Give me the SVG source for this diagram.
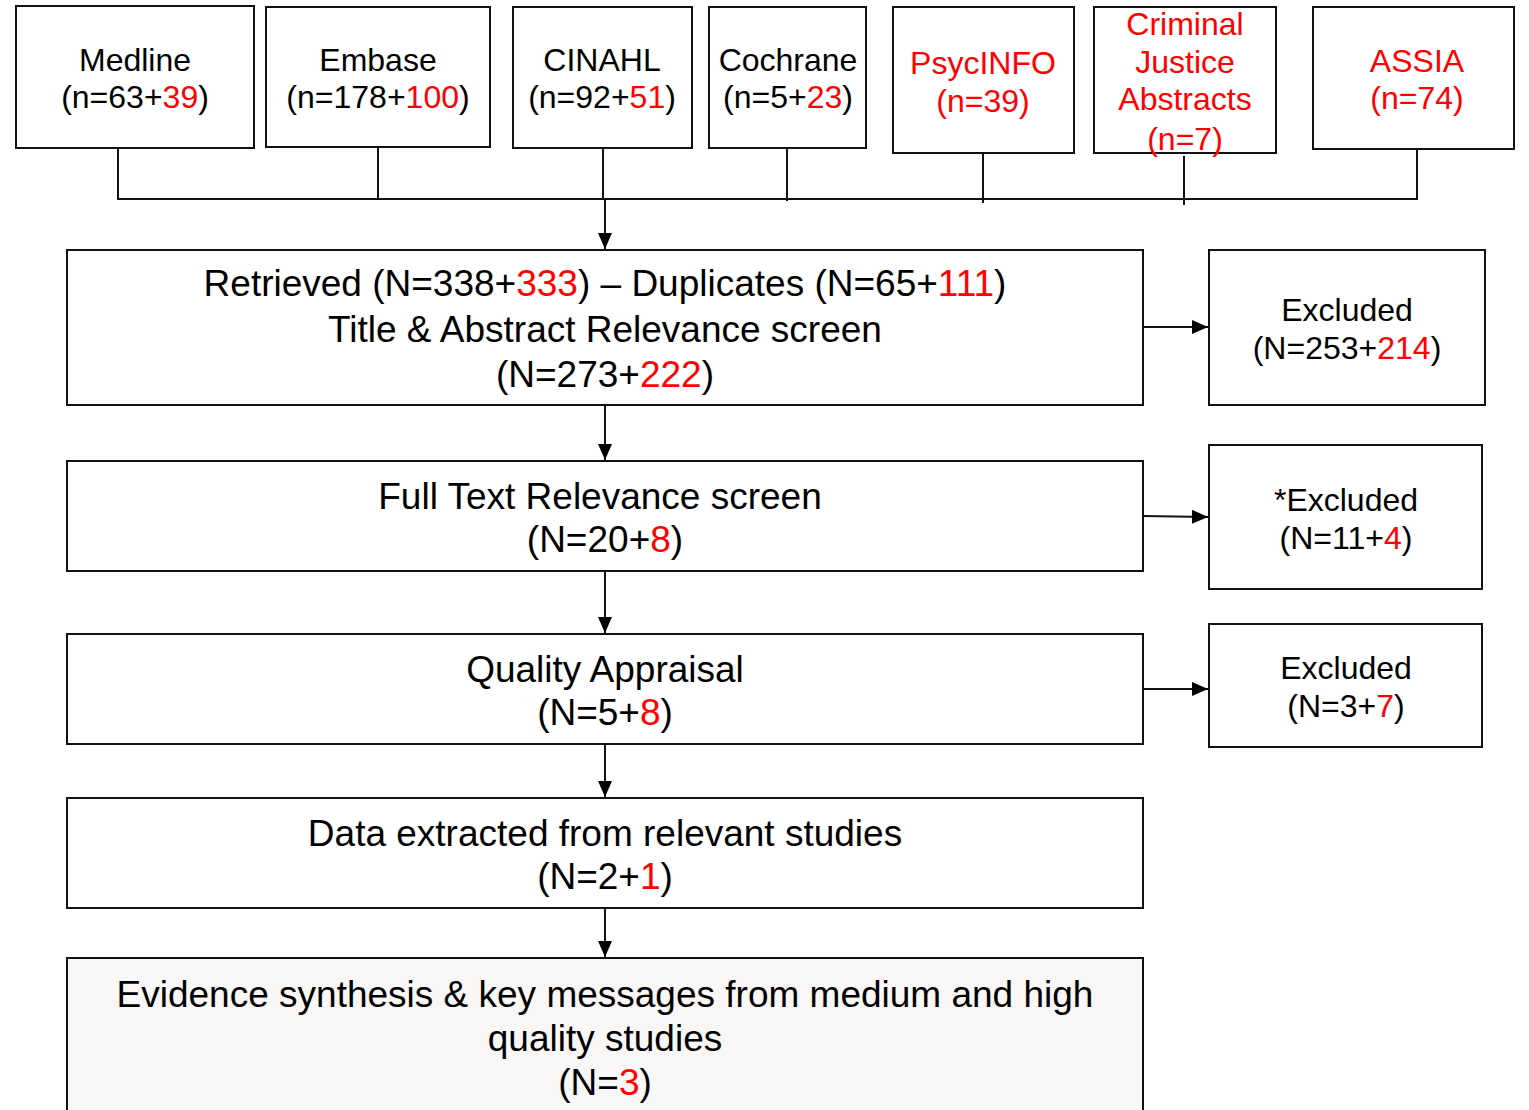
<svg xmlns="http://www.w3.org/2000/svg" width="1529" height="1110" viewBox="0 0 1529 1110">
<style>
.box{fill:#fff;stroke:#111;stroke-width:2}
.t{font-family:"Liberation Sans",Arial,sans-serif;fill:#000;text-anchor:middle}
.s{font-size:32px}
.m{font-size:37px}
.r{fill:#ff0000}
.c{fill:none;stroke:#111;stroke-width:2}
</style>
<defs>
<marker id="ah" markerWidth="16" markerHeight="14" refX="16" refY="7" orient="auto" markerUnits="userSpaceOnUse">
<path d="M0,0 L16,7 L0,14 Z" fill="#000"/>
</marker>
</defs>
<rect x="0" y="0" width="1529" height="1110" fill="#fff"/>
<g id="connectors">
<polyline class="c" points="118,148 118,199 1417,199 1417,149"/>
<line class="c" x1="378" y1="147" x2="378" y2="199"/>
<line class="c" x1="603" y1="148" x2="603" y2="199"/>
<line class="c" x1="787" y1="148" x2="787" y2="201"/>
<line class="c" x1="983" y1="153" x2="983" y2="203"/>
<line class="c" x1="1184" y1="156" x2="1184" y2="205"/>
<line class="c" x1="605" y1="199" x2="605" y2="249" marker-end="url(#ah)"/>
<line class="c" x1="605" y1="405" x2="605" y2="460" marker-end="url(#ah)"/>
<line class="c" x1="605" y1="571" x2="605" y2="633" marker-end="url(#ah)"/>
<line class="c" x1="605" y1="744" x2="605" y2="797" marker-end="url(#ah)"/>
<line class="c" x1="605" y1="908" x2="605" y2="957" marker-end="url(#ah)"/>
<line class="c" x1="1143" y1="327" x2="1208" y2="327" marker-end="url(#ah)"/>
<line class="c" x1="1143" y1="516" x2="1208" y2="517" marker-end="url(#ah)"/>
<line class="c" x1="1143" y1="689" x2="1208" y2="689" marker-end="url(#ah)"/>
</g>
<g id="medline"><rect class="box" x="16" y="6" width="238" height="142"/>
<text class="t s" x="135" y="71">Medline</text>
<text class="t s" x="135" y="108">(n=63+<tspan class="r">39</tspan>)</text></g>
<g id="embase"><rect class="box" x="266" y="7" width="224" height="140"/>
<text class="t s" x="378" y="71">Embase</text>
<text class="t s" x="378" y="108">(n=178+<tspan class="r">100</tspan>)</text></g>
<g id="cinahl"><rect class="box" x="513" y="7" width="179" height="141"/>
<text class="t s" x="602" y="71">CINAHL</text>
<text class="t s" x="602" y="108">(n=92+<tspan class="r">51</tspan>)</text></g>
<g id="cochrane"><rect class="box" x="709" y="7" width="157" height="141"/>
<text class="t s" x="788" y="71">Cochrane</text>
<text class="t s" x="788" y="108">(n=5+<tspan class="r">23</tspan>)</text></g>
<g id="psycinfo"><rect class="box" x="893" y="7" width="181" height="146"/>
<text class="t s r" x="983" y="74">PsycINFO</text>
<text class="t s r" x="983" y="112">(n=39)</text></g>
<g id="criminal"><rect class="box" x="1094" y="7" width="182" height="146"/>
<text class="t s r" x="1185" y="35">Criminal</text>
<text class="t s r" x="1185" y="73">Justice</text>
<text class="t s r" x="1185" y="110">Abstracts</text>
<text class="t s r" x="1185" y="150">(n=7)</text></g>
<g id="assia"><rect class="box" x="1313" y="7" width="201" height="142"/>
<text class="t s r" x="1417" y="72">ASSIA</text>
<text class="t s r" x="1417" y="109">(n=74)</text></g>
<g id="retrieved"><rect class="box" x="67" y="250" width="1076" height="155"/>
<text class="t m" x="605" y="296">Retrieved (N=338+<tspan class="r">333</tspan>) – Duplicates (N=65+<tspan class="r">111</tspan>)</text>
<text class="t m" x="605" y="342">Title &amp; Abstract Relevance screen</text>
<text class="t m" x="605" y="387">(N=273+<tspan class="r">222</tspan>)</text></g>
<g id="excluded1"><rect class="box" x="1209" y="250" width="276" height="155"/>
<text class="t s" x="1347" y="321">Excluded</text>
<text class="t s" x="1347" y="359">(N=253+<tspan class="r">214</tspan>)</text></g>
<g id="fulltext"><rect class="box" x="67" y="461" width="1076" height="110"/>
<text class="t m" x="600" y="509">Full Text Relevance screen</text>
<text class="t m" x="605" y="552">(N=20+<tspan class="r">8</tspan>)</text></g>
<g id="excluded2"><rect class="box" x="1209" y="445" width="273" height="144"/>
<text class="t s" x="1346" y="511">*Excluded</text>
<text class="t s" x="1346" y="549">(N=11+<tspan class="r">4</tspan>)</text></g>
<g id="quality"><rect class="box" x="67" y="634" width="1076" height="110"/>
<text class="t m" x="605" y="682">Quality Appraisal</text>
<text class="t m" x="605" y="725">(N=5+<tspan class="r">8</tspan>)</text></g>
<g id="excluded3"><rect class="box" x="1209" y="624" width="273" height="123"/>
<text class="t s" x="1346" y="679">Excluded</text>
<text class="t s" x="1346" y="717">(N=3+<tspan class="r">7</tspan>)</text></g>
<g id="data"><rect class="box" x="67" y="798" width="1076" height="110"/>
<text class="t m" x="605" y="846">Data extracted from relevant studies</text>
<text class="t m" x="605" y="889">(N=2+<tspan class="r">1</tspan>)</text></g>
<g id="synthesis"><rect class="box" x="67" y="958" width="1076" height="160" style="fill:#f8f7f5"/>
<text class="t m" x="605" y="1007">Evidence synthesis &amp; key messages from medium and high</text>
<text class="t m" x="605" y="1051">quality studies</text>
<text class="t m" x="605" y="1095">(N=<tspan class="r">3</tspan>)</text></g>
</svg>
